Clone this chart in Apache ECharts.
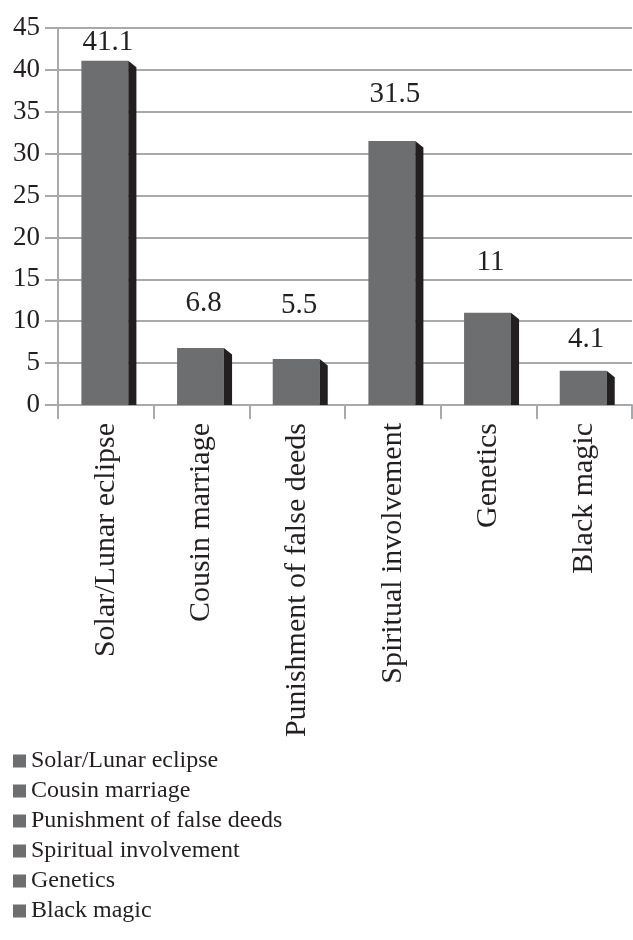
<!DOCTYPE html>
<html>
<head>
<meta charset="utf-8">
<script src="https://cdn.jsdelivr.net/npm/echarts@6/dist/echarts.min.js"></script>
<style>
  html, body { margin: 0; padding: 0; background: #ffffff; }
  #chart { width: 633px; height: 940px; }
</style>
</head>
<body>
<div id="chart"></div>
<script>
// Perceived causes (%)
const categories = [
  'Solar/Lunar eclipse',
  'Cousin marriage',
  'Punishment of false deeds',
  'Spiritual involvement',
  'Genetics',
  'Black magic'
];
const values = [41.1, 6.8, 5.5, 31.5, 11, 4.1];

// value axis
const yMin = 0;
const yMax = 45;
const yStep = 5;

// space (px) between each bar top and its value text
const labelGap = [8, 35, 44, 37, 40, 21];

const FONT = "'Liberation Serif', 'Times New Roman', serif";
const INK = '#231f20';
const FRONT = '#6d6e70';
const SIDE = '#231f20';
const GRID = '#a7a9ac';

function renderBar(params, api) {
  const idx = api.value(0);
  const v = api.value(1);
  const top = api.coord([idx, v]);
  const base = api.coord([idx, 0]);
  const band = api.size([1, 0])[0];
  const fw = band * 0.49;
  const sw = band * 0.085;
  const cx = top[0] - 1;
  const left = cx - fw / 2;
  const right = cx + fw / 2;
  return {
    type: 'group',
    children: [
      {
        type: 'rect',
        shape: { x: left, y: top[1], width: fw, height: base[1] - top[1] },
        style: { fill: FRONT }
      },
      {
        type: 'polygon',
        shape: {
          points: [
            [right, top[1]],
            [right + sw, top[1] + sw * 0.8],
            [right + sw, base[1]],
            [right, base[1]]
          ]
        },
        style: { fill: SIDE }
      },
      {
        type: 'text',
        style: {
          text: String(v),
          x: top[0] + 2,
          y: top[1] - labelGap[idx] - 10,
          align: 'center',
          verticalAlign: 'middle',
          fontFamily: FONT,
          fontSize: 29,
          fill: INK
        }
      }
    ]
  };
}

const chart = echarts.init(document.getElementById('chart'), null, { renderer: 'canvas' });

chart.setOption({
  backgroundColor: '#ffffff',
  animation: false,
  color: [FRONT],
  grid: { left: 58, right: 1, top: 28, bottom: 535 },
  legend: {
    orient: 'vertical',
    left: 13,
    top: 749,
    padding: 0,
    itemWidth: 13,
    itemHeight: 13,
    itemGap: 6,
    icon: 'rect',
    selectedMode: false,
    data: categories,
    textStyle: { fontFamily: FONT, fontSize: 24, color: INK }
  },
  xAxis: {
    type: 'category',
    data: categories,
    axisLine: { show: true, lineStyle: { color: GRID, width: 2 } },
    axisTick: { show: true, length: 14, lineStyle: { color: GRID, width: 2 } },
    axisLabel: {
      interval: 0,
      rotate: 90,
      margin: 18,
      fontFamily: FONT,
      fontSize: 30,
      color: INK
    },
    splitLine: { show: false }
  },
  yAxis: {
    type: 'value',
    min: yMin,
    max: yMax,
    interval: yStep,
    axisLine: { show: true, lineStyle: { color: GRID, width: 2 } },
    axisTick: { show: true, length: 13, lineStyle: { color: GRID, width: 2 } },
    axisLabel: { margin: 18, fontFamily: FONT, fontSize: 27, color: INK },
    splitLine: { show: true, lineStyle: { color: GRID, width: 2 } }
  },
  series: categories.map((name, i) => ({
    type: 'custom',
    name: name,
    renderItem: renderBar,
    encode: { x: 0, y: 1 },
    data: [[i, values[i]]]
  }))
});
</script>
</body>
</html>
